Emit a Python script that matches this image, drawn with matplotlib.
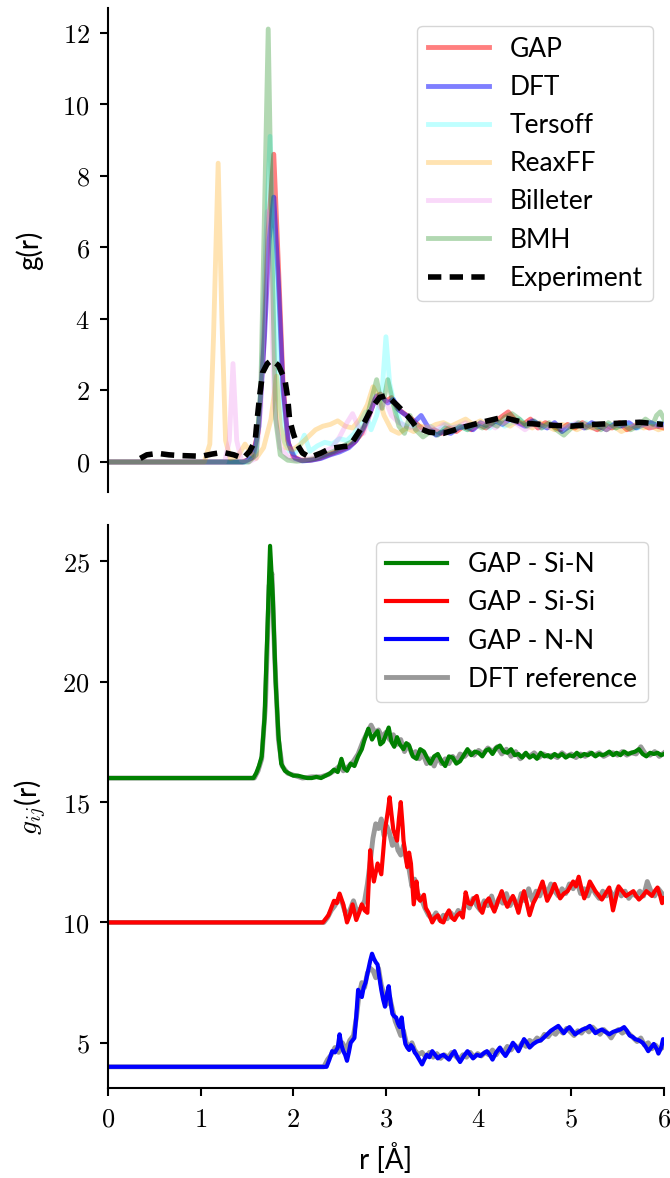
import matplotlib.pyplot as plt
from matplotlib.ticker import FuncFormatter

# ---- top panel: total g(r), (r, g) pairs ----
gap = [(0, 0), (1.45, 0), (1.55, 0.1), (1.62, 0.8), (1.68, 3.2), (1.73, 6.5), (1.79, 8.6), (1.84, 5.5),
       (1.89, 2.2), (1.94, 0.6), (2.0, 0.15), (2.08, 0.05), (2.18, 0.05), (2.28, 0.1), (2.38, 0.2),
       (2.48, 0.3), (2.58, 0.4), (2.66, 0.55), (2.74, 0.8), (2.82, 1.3), (2.88, 1.75), (2.94, 1.9),
       (3.0, 1.7), (3.06, 1.8), (3.12, 1.5), (3.2, 1.35), (3.28, 1.2), (3.36, 1.0), (3.44, 0.85),
       (3.52, 0.9), (3.6, 0.8), (3.68, 0.95), (3.76, 0.85), (3.84, 1.0), (3.92, 0.9), (4.0, 1.05),
       (4.08, 0.95), (4.16, 1.1), (4.24, 1.25), (4.32, 1.4), (4.4, 1.15), (4.48, 1.05), (4.56, 1.2),
       (4.64, 0.95), (4.72, 1.1), (4.8, 1.0), (4.88, 0.9), (4.96, 1.05), (5.04, 0.95), (5.12, 1.1),
       (5.2, 1.0), (5.28, 0.9), (5.36, 1.05), (5.44, 0.95), (5.52, 1.1), (5.6, 0.9), (5.68, 1.0),
       (5.76, 1.05), (5.84, 0.95), (5.92, 1.0), (6.0, 0.95)]
dft = [(0, 0), (1.47, 0), (1.57, 0.15), (1.63, 1.0), (1.69, 3.5), (1.74, 6.2), (1.79, 7.4), (1.84, 5.0),
       (1.89, 2.0), (1.95, 0.5), (2.02, 0.1), (2.1, 0.03), (2.2, 0.05), (2.3, 0.1), (2.4, 0.2), (2.5, 0.28),
       (2.6, 0.4), (2.68, 0.6), (2.76, 0.95), (2.84, 1.45), (2.9, 1.85), (2.96, 1.8), (3.02, 1.65),
       (3.08, 1.75), (3.14, 1.45), (3.22, 1.3), (3.3, 1.1), (3.38, 1.3), (3.46, 0.95), (3.54, 0.75),
       (3.62, 0.85), (3.7, 0.8), (3.78, 0.95), (3.86, 1.0), (3.94, 0.9), (4.02, 1.1), (4.1, 1.0),
       (4.18, 1.15), (4.26, 1.05), (4.34, 1.2), (4.42, 1.1), (4.5, 1.0), (4.58, 1.15), (4.66, 1.05),
       (4.74, 0.95), (4.82, 1.1), (4.9, 0.85), (4.98, 1.0), (5.06, 1.05), (5.14, 0.95), (5.22, 1.1),
       (5.3, 1.0), (5.38, 0.9), (5.46, 1.05), (5.54, 1.0), (5.62, 1.1), (5.7, 0.95), (5.78, 1.05),
       (5.86, 1.1), (5.94, 1.0), (6.0, 1.05)]
tersoff = [(0, 0), (1.5, 0), (1.6, 0.3), (1.66, 2.5), (1.71, 6.5), (1.75, 9.1), (1.8, 5.0), (1.85, 1.8),
           (1.9, 0.6), (1.96, 0.3), (2.02, 0.25), (2.08, 0.5), (2.12, 0.75), (2.18, 0.3), (2.26, 0.45),
           (2.34, 0.55), (2.42, 0.5), (2.5, 0.65), (2.58, 0.6), (2.66, 0.8), (2.72, 1.1), (2.78, 1.4),
           (2.84, 0.9), (2.9, 1.3), (2.96, 2.0), (3.0, 3.5), (3.04, 2.2), (3.1, 1.5), (3.16, 1.1),
           (3.24, 0.95), (3.32, 1.05), (3.4, 0.9), (3.48, 1.0), (3.56, 0.85), (3.64, 1.05), (3.72, 0.95),
           (3.8, 1.0), (3.88, 0.9), (3.96, 1.05), (4.04, 1.0), (4.12, 0.95), (4.2, 1.15), (4.28, 1.0),
           (4.36, 1.1), (4.44, 1.2), (4.52, 1.0), (4.6, 1.1), (4.68, 0.95), (4.76, 1.05), (4.84, 1.0),
           (4.92, 0.95), (5.0, 1.05), (5.08, 1.0), (5.16, 1.1), (5.24, 0.95), (5.32, 1.0), (5.4, 1.05),
           (5.48, 0.95), (5.56, 1.1), (5.64, 1.0), (5.72, 0.95), (5.8, 1.05), (5.88, 1.0), (5.96, 1.1),
           (6.0, 1.0)]
reaxff = [(0, 0), (1.04, 0), (1.1, 0.5), (1.14, 3.5), (1.19, 8.35), (1.23, 4.0), (1.27, 0.6), (1.32, 0.1),
          (1.4, 0.15), (1.48, 0.5), (1.53, 0.3), (1.6, 0.1), (1.68, 0.4), (1.76, 1.2), (1.82, 2.4),
          (1.86, 1.0), (1.92, 0.4), (2.0, 0.35), (2.08, 0.5), (2.16, 0.7), (2.24, 0.9), (2.32, 1.0),
          (2.4, 1.05), (2.48, 1.15), (2.56, 1.0), (2.64, 0.95), (2.72, 1.2), (2.8, 1.6), (2.86, 2.1),
          (2.92, 1.8), (2.98, 1.3), (3.06, 0.9), (3.14, 0.8), (3.22, 0.95), (3.3, 0.85), (3.38, 1.0),
          (3.46, 0.95), (3.54, 1.05), (3.62, 1.1), (3.7, 1.0), (3.78, 1.1), (3.86, 1.2), (3.94, 1.05),
          (4.02, 1.15), (4.1, 1.0), (4.18, 1.2), (4.26, 1.1), (4.34, 1.0), (4.42, 1.15), (4.5, 1.05),
          (4.58, 0.95), (4.66, 1.1), (4.74, 1.0), (4.82, 0.9), (4.9, 1.05), (4.98, 1.0), (5.06, 0.9),
          (5.14, 1.0), (5.22, 0.95), (5.3, 1.05), (5.38, 0.9), (5.46, 1.0), (5.54, 0.85), (5.62, 0.95),
          (5.7, 1.05), (5.78, 0.95), (5.86, 1.0), (5.94, 0.9), (6.0, 0.95)]
billeter = [(0, 0), (1.26, 0), (1.31, 0.6), (1.35, 2.75), (1.39, 0.6), (1.44, 0.05), (1.52, 0), (1.6, 0.1),
            (1.65, 1.5), (1.69, 5.0), (1.72, 7.0), (1.76, 4.5), (1.8, 1.5), (1.86, 0.4), (1.94, 0.15),
            (2.02, 0.05), (2.1, 0.05), (2.18, 0.1), (2.26, 0.15), (2.34, 0.3), (2.42, 0.4), (2.5, 0.7),
            (2.58, 1.1), (2.64, 1.35), (2.7, 1.0), (2.76, 0.8), (2.82, 1.3), (2.88, 1.8), (2.94, 1.5),
            (3.0, 1.7), (3.06, 1.3), (3.14, 1.1), (3.22, 1.0), (3.3, 0.95), (3.38, 0.9), (3.46, 1.0),
            (3.54, 0.9), (3.62, 1.05), (3.7, 0.95), (3.78, 1.0), (3.86, 1.1), (3.94, 0.95), (4.02, 1.05),
            (4.1, 1.1), (4.18, 0.95), (4.26, 1.1), (4.34, 1.2), (4.42, 1.05), (4.5, 0.9), (4.58, 1.05),
            (4.66, 0.95), (4.74, 1.0), (4.82, 1.05), (4.9, 0.95), (4.98, 1.0), (5.06, 1.1), (5.14, 0.95),
            (5.22, 1.0), (5.3, 1.05), (5.38, 0.95), (5.46, 1.0), (5.54, 1.05), (5.62, 0.95), (5.7, 1.0),
            (5.78, 1.05), (5.86, 0.95), (5.94, 1.05), (6.0, 1.0)]
bmh = [(0, 0), (1.52, 0), (1.6, 0.2), (1.65, 2.0), (1.69, 7.0), (1.73, 12.1), (1.77, 6.0), (1.81, 1.2),
       (1.86, 0.2), (1.94, 0.05), (2.04, 0.02), (2.14, 0.05), (2.24, 0.1), (2.34, 0.2), (2.44, 0.3),
       (2.54, 0.45), (2.62, 0.55), (2.7, 0.7), (2.78, 1.1), (2.84, 1.7), (2.9, 2.3), (2.96, 1.5),
       (3.02, 2.3), (3.08, 1.6), (3.14, 1.0), (3.2, 0.8), (3.26, 1.3), (3.32, 0.9), (3.4, 0.7),
       (3.48, 0.85), (3.56, 0.75), (3.64, 0.95), (3.72, 0.85), (3.8, 1.0), (3.88, 0.9), (3.96, 1.05),
       (4.04, 0.95), (4.12, 1.1), (4.2, 1.0), (4.28, 1.25), (4.36, 1.35), (4.44, 1.2), (4.52, 1.0),
       (4.6, 1.15), (4.68, 0.95), (4.76, 1.1), (4.84, 0.9), (4.92, 0.75), (5.0, 0.95), (5.08, 1.1),
       (5.16, 0.95), (5.24, 1.05), (5.32, 0.9), (5.4, 1.1), (5.48, 0.95), (5.56, 1.05), (5.64, 0.9),
       (5.72, 1.0), (5.8, 1.2), (5.88, 1.05), (5.92, 1.3), (5.96, 1.4), (6.0, 1.2)]
experiment = [(0.35, 0.1), (0.42, 0.2), (0.54, 0.24), (0.66, 0.2), (0.78, 0.18), (0.9, 0.17), (1.01, 0.16),
              (1.12, 0.22), (1.24, 0.27), (1.36, 0.2), (1.46, 0.1), (1.53, 0.3), (1.59, 0.6), (1.61, 1.17),
              (1.64, 1.9), (1.67, 2.5), (1.72, 2.75), (1.77, 2.85), (1.84, 2.7), (1.91, 2.3), (1.94, 1.8),
              (1.96, 1.2), (2.0, 0.8), (2.04, 0.5), (2.1, 0.25), (2.18, 0.13), (2.3, 0.25), (2.4, 0.38),
              (2.51, 0.42), (2.61, 0.45), (2.74, 0.97), (2.85, 1.52), (2.93, 1.8), (3.01, 1.86), (3.12, 1.59),
              (3.23, 1.3), (3.33, 0.97), (3.47, 0.83), (3.62, 0.8), (3.83, 0.97), (4.05, 1.12), (4.26, 1.25),
              (4.52, 1.08), (4.77, 1.03), (4.99, 1.0), (5.24, 1.05), (5.49, 1.08), (5.74, 1.11), (5.99, 1.05)]

# ---- bottom panel: partial g_ij(r), already offset (Si-N +16, Si-Si +10, N-N +4) ----
gap_sin = [(0, 16), (1.57, 16), (1.6, 16.2), (1.63, 16.5), (1.66, 16.9), (1.69, 18.5), (1.72, 22.0), (1.75, 25.65),
           (1.78, 23.5), (1.81, 20.0), (1.84, 17.8), (1.87, 16.6), (1.91, 16.3), (1.95, 16.2), (2.0, 16.1),
           (2.05, 16.1), (2.1, 16.05), (2.15, 16.0), (2.2, 16.0), (2.25, 16.05), (2.3, 16.0), (2.35, 16.1),
           (2.4, 16.2), (2.44, 16.35), (2.48, 16.25), (2.52, 16.8), (2.55, 16.4), (2.58, 16.3), (2.62, 16.6),
           (2.66, 16.5), (2.7, 16.9), (2.74, 17.2), (2.77, 17.6), (2.81, 18.05), (2.85, 17.6), (2.88, 17.8),
           (2.91, 17.95), (2.94, 17.4), (2.97, 17.5), (3.0, 17.8), (3.03, 18.1), (3.06, 17.5), (3.09, 17.3),
           (3.12, 17.7), (3.15, 17.4), (3.19, 17.2), (3.22, 17.45), (3.25, 17.35), (3.29, 16.9), (3.33, 16.8),
           (3.37, 17.2), (3.41, 17.1), (3.45, 16.8), (3.48, 16.6), (3.52, 16.9), (3.56, 17.0), (3.6, 16.7),
           (3.64, 16.5), (3.68, 16.9), (3.72, 16.85), (3.76, 16.6), (3.8, 16.7), (3.84, 16.95), (3.88, 17.2),
           (3.92, 16.95), (3.96, 17.1), (4.0, 17.05), (4.04, 16.9), (4.08, 17.15), (4.11, 17.2), (4.15, 17.0),
           (4.19, 17.25), (4.23, 17.35), (4.27, 17.1), (4.31, 17.05), (4.35, 17.2), (4.39, 16.95), (4.43, 17.0),
           (4.47, 16.85), (4.51, 17.05), (4.55, 16.85), (4.59, 16.95), (4.63, 16.8), (4.67, 17.05), (4.71, 16.9),
           (4.75, 16.95), (4.78, 16.85), (4.82, 17.0), (4.86, 16.9), (4.9, 17.0), (4.94, 16.85), (4.98, 16.95),
           (5.02, 16.9), (5.06, 17.05), (5.1, 16.9), (5.14, 17.0), (5.18, 16.95), (5.22, 17.05), (5.26, 16.9),
           (5.3, 17.0), (5.34, 16.95), (5.37, 17.0), (5.41, 17.1), (5.45, 16.95), (5.49, 17.05), (5.53, 16.95),
           (5.57, 17.1), (5.61, 17.0), (5.65, 17.05), (5.69, 17.1), (5.73, 17.2), (5.77, 17.0), (5.81, 16.9),
           (5.85, 17.05), (5.89, 17.0), (5.93, 17.05), (5.97, 16.95), (6.0, 17.0)]
dft_sin = [(0, 16), (1.58, 16), (1.62, 16.3), (1.66, 16.8), (1.7, 19.0), (1.74, 24.0), (1.77, 24.5), (1.8, 21.0),
           (1.84, 17.6), (1.88, 16.5), (1.94, 16.2), (2.02, 16.1), (2.1, 16.0), (2.2, 16.05), (2.3, 16.05),
           (2.38, 16.15), (2.44, 16.3), (2.5, 16.5), (2.54, 16.3), (2.6, 16.5), (2.65, 16.7), (2.7, 17.0),
           (2.75, 17.5), (2.8, 17.9), (2.84, 18.2), (2.88, 17.9), (2.92, 18.0), (2.96, 17.7), (3.0, 17.9),
           (3.04, 17.6), (3.08, 17.8), (3.12, 17.4), (3.16, 17.6), (3.2, 17.1), (3.24, 17.4), (3.28, 17.0),
           (3.32, 17.1), (3.36, 16.8), (3.4, 17.0), (3.44, 16.6), (3.48, 16.8), (3.52, 16.5), (3.56, 16.9),
           (3.6, 16.6), (3.64, 16.8), (3.68, 16.6), (3.72, 16.9), (3.76, 16.7), (3.8, 17.0), (3.85, 16.9),
           (3.9, 17.1), (3.95, 16.95), (4.0, 17.15), (4.05, 17.0), (4.1, 17.25), (4.15, 17.1), (4.2, 17.3),
           (4.25, 17.0), (4.3, 17.2), (4.35, 16.9), (4.4, 17.1), (4.45, 16.8), (4.5, 17.0), (4.55, 16.9),
           (4.6, 17.05), (4.65, 16.85), (4.7, 17.0), (4.75, 16.9), (4.8, 16.95), (4.85, 16.85), (4.9, 17.05),
           (4.95, 16.9), (5.0, 17.0), (5.05, 16.85), (5.1, 17.0), (5.15, 16.9), (5.2, 17.05), (5.25, 16.95),
           (5.3, 17.05), (5.35, 16.9), (5.4, 17.0), (5.45, 17.05), (5.5, 16.95), (5.55, 17.1), (5.6, 16.95),
           (5.65, 17.05), (5.7, 17.0), (5.75, 17.3), (5.8, 17.0), (5.85, 16.95), (5.9, 17.1), (5.95, 16.9),
           (6.0, 17.05)]
gap_sisi = [(0, 10), (2.32, 10), (2.35, 10.15), (2.38, 10.3), (2.41, 10.6), (2.44, 10.9), (2.47, 10.8), (2.5, 11.2),
            (2.54, 10.75), (2.58, 10.0), (2.61, 10.3), (2.64, 10.75), (2.68, 10.1), (2.71, 10.4), (2.74, 10.75),
            (2.77, 10.5), (2.8, 10.4), (2.83, 13.0), (2.85, 12.2), (2.87, 11.7), (2.91, 12.45), (2.95, 12.0),
            (2.97, 12.9), (2.99, 13.85), (3.02, 14.6), (3.04, 15.2), (3.06, 14.5), (3.08, 13.85), (3.12, 13.4),
            (3.14, 14.3), (3.16, 15.0), (3.18, 14.0), (3.19, 13.4), (3.23, 12.3), (3.25, 12.9), (3.27, 12.45),
            (3.3, 10.75), (3.33, 11.7), (3.35, 11.0), (3.37, 10.9), (3.41, 11.15), (3.43, 10.6), (3.46, 10.4),
            (3.5, 10.0), (3.53, 10.2), (3.56, 10.3), (3.59, 10.05), (3.62, 10.0), (3.65, 10.3), (3.68, 10.5),
            (3.71, 10.2), (3.74, 10.1), (3.77, 10.3), (3.8, 10.4), (3.83, 10.2), (3.86, 11.25), (3.89, 10.8),
            (3.92, 10.75), (3.95, 11.0), (3.98, 11.1), (4.01, 10.6), (4.04, 10.4), (4.07, 10.8), (4.11, 11.0),
            (4.14, 10.7), (4.17, 10.45), (4.21, 10.9), (4.25, 11.3), (4.28, 10.9), (4.31, 10.65), (4.34, 10.9),
            (4.37, 11.1), (4.4, 10.8), (4.43, 10.4), (4.46, 10.9), (4.49, 11.3), (4.52, 10.8), (4.55, 10.3),
            (4.59, 10.8), (4.63, 11.1), (4.66, 11.4), (4.69, 11.7), (4.72, 11.2), (4.74, 10.9), (4.78, 11.2),
            (4.82, 11.6), (4.85, 11.3), (4.88, 11.0), (4.92, 11.2), (4.96, 11.3), (4.99, 11.5), (5.02, 11.7),
            (5.05, 11.5), (5.08, 11.9), (5.11, 11.4), (5.14, 11.0), (5.17, 11.3), (5.2, 11.7), (5.23, 11.5),
            (5.26, 11.3), (5.3, 11.1), (5.33, 10.95), (5.37, 11.2), (5.41, 11.45), (5.45, 10.5), (5.48, 11.0),
            (5.51, 11.5), (5.55, 11.3), (5.59, 11.1), (5.63, 11.2), (5.67, 11.3), (5.7, 11.1), (5.73, 10.95),
            (5.77, 11.1), (5.81, 11.3), (5.84, 11.2), (5.87, 11.1), (5.9, 11.3), (5.93, 11.45), (5.96, 11.1),
            (5.98, 10.8), (6.0, 11.0)]
dft_sisi = [(0, 10), (2.33, 10), (2.37, 10.2), (2.41, 10.5), (2.45, 10.7), (2.49, 11.0), (2.53, 10.8), (2.57, 10.3),
            (2.61, 10.5), (2.65, 10.9), (2.69, 10.4), (2.73, 10.6), (2.77, 10.9), (2.8, 11.6), (2.83, 12.5),
            (2.86, 13.5), (2.89, 14.1), (2.92, 13.9), (2.95, 14.3), (2.98, 13.6), (3.01, 14.0), (3.04, 13.7),
            (3.07, 13.2), (3.1, 13.5), (3.13, 13.0), (3.16, 12.8), (3.19, 13.2), (3.22, 12.6), (3.25, 12.2),
            (3.28, 11.5), (3.31, 11.8), (3.34, 11.2), (3.38, 11.0), (3.42, 10.6), (3.46, 10.3), (3.5, 10.15),
            (3.54, 10.4), (3.58, 10.1), (3.62, 10.3), (3.66, 10.15), (3.7, 10.4), (3.74, 10.2), (3.78, 10.5),
            (3.82, 10.3), (3.86, 10.9), (3.9, 10.6), (3.94, 11.0), (3.98, 10.7), (4.02, 10.5), (4.06, 10.9),
            (4.1, 10.7), (4.14, 11.1), (4.18, 10.6), (4.22, 11.0), (4.26, 10.8), (4.3, 11.2), (4.34, 10.7),
            (4.38, 11.0), (4.42, 10.6), (4.46, 11.2), (4.5, 10.9), (4.54, 11.4), (4.58, 10.9), (4.62, 11.3),
            (4.66, 11.1), (4.7, 11.5), (4.74, 11.2), (4.78, 11.6), (4.82, 11.3), (4.86, 11.1), (4.9, 11.4),
            (4.94, 11.2), (4.98, 11.6), (5.02, 11.4), (5.06, 11.7), (5.1, 11.2), (5.14, 11.4), (5.18, 11.1),
            (5.22, 11.5), (5.26, 11.2), (5.3, 11.0), (5.34, 11.3), (5.38, 11.1), (5.42, 11.3), (5.46, 11.0),
            (5.5, 11.4), (5.54, 11.1), (5.58, 11.3), (5.62, 11.0), (5.66, 11.2), (5.7, 11.1), (5.74, 11.3),
            (5.78, 11.1), (5.82, 11.7), (5.86, 11.3), (5.9, 11.1), (5.94, 11.4), (5.98, 11.2), (6.0, 11.1)]
gap_nn = [(0, 4), (2.36, 4), (2.39, 4.3), (2.42, 4.65), (2.45, 4.6), (2.48, 4.8), (2.5, 5.35), (2.52, 4.9),
          (2.54, 4.65), (2.56, 4.5), (2.58, 4.25), (2.6, 4.6), (2.62, 5.0), (2.64, 5.1), (2.66, 5.2), (2.68, 6.1),
          (2.7, 7.2), (2.72, 7.0), (2.74, 6.9), (2.76, 7.3), (2.78, 7.5), (2.81, 8.05), (2.83, 8.4), (2.85, 8.7),
          (2.87, 8.5), (2.89, 8.35), (2.91, 8.25), (2.93, 7.7), (2.95, 7.2), (2.97, 6.8), (2.99, 6.5), (3.01, 7.0),
          (3.03, 7.35), (3.05, 6.7), (3.07, 6.2), (3.09, 6.1), (3.11, 6.05), (3.13, 5.8), (3.15, 5.65),
          (3.17, 6.05), (3.19, 5.4), (3.21, 4.95), (3.23, 4.8), (3.25, 4.7), (3.27, 4.9), (3.29, 4.8), (3.31, 4.6),
          (3.33, 4.5), (3.36, 4.3), (3.39, 4.1), (3.42, 4.35), (3.44, 4.5), (3.47, 4.4), (3.5, 4.65), (3.53, 4.5),
          (3.56, 4.35), (3.59, 4.45), (3.62, 4.5), (3.65, 4.4), (3.68, 4.3), (3.71, 4.5), (3.74, 4.65),
          (3.77, 4.4), (3.8, 4.2), (3.84, 4.45), (3.88, 4.65), (3.91, 4.5), (3.94, 4.35), (3.98, 4.5),
          (4.02, 4.45), (4.05, 4.55), (4.09, 4.65), (4.12, 4.5), (4.15, 4.3), (4.19, 4.6), (4.23, 4.8),
          (4.26, 4.6), (4.29, 4.45), (4.33, 4.7), (4.37, 5.0), (4.4, 4.85), (4.43, 4.65), (4.46, 4.9),
          (4.49, 5.15), (4.52, 5.0), (4.55, 4.8), (4.59, 4.95), (4.63, 5.05), (4.67, 5.1), (4.7, 5.2),
          (4.74, 5.35), (4.78, 5.5), (4.82, 5.6), (4.86, 5.7), (4.89, 5.55), (4.92, 5.4), (4.95, 5.55),
          (4.98, 5.65), (5.01, 5.5), (5.04, 5.35), (5.08, 5.45), (5.12, 5.55), (5.16, 5.6), (5.2, 5.7),
          (5.23, 5.55), (5.26, 5.4), (5.3, 5.5), (5.33, 5.55), (5.37, 5.45), (5.41, 5.35), (5.45, 5.45),
          (5.49, 5.5), (5.53, 5.55), (5.57, 5.65), (5.6, 5.5), (5.63, 5.3), (5.66, 5.25), (5.69, 5.15),
          (5.73, 5.1), (5.77, 5.0), (5.8, 4.85), (5.83, 4.65), (5.86, 4.8), (5.89, 4.95), (5.92, 4.75),
          (5.94, 4.55), (5.97, 4.8), (5.99, 5.15), (6.0, 5.0)]
dft_nn = [(0, 4), (2.33, 4), (2.37, 4.3), (2.41, 4.5), (2.45, 4.8), (2.49, 4.6), (2.53, 5.0), (2.57, 4.7),
          (2.61, 5.1), (2.65, 5.3), (2.68, 6.0), (2.71, 7.0), (2.74, 7.5), (2.77, 7.3), (2.8, 7.9), (2.83, 8.1),
          (2.86, 8.0), (2.89, 7.7), (2.92, 8.1), (2.95, 7.4), (2.98, 7.0), (3.01, 6.6), (3.04, 6.9), (3.07, 6.4),
          (3.1, 5.9), (3.13, 5.6), (3.16, 5.3), (3.19, 5.5), (3.22, 5.0), (3.25, 4.8), (3.28, 5.0), (3.31, 4.7),
          (3.35, 4.5), (3.39, 4.6), (3.43, 4.4), (3.47, 4.6), (3.51, 4.4), (3.55, 4.55), (3.59, 4.35),
          (3.63, 4.5), (3.67, 4.4), (3.71, 4.6), (3.75, 4.45), (3.79, 4.3), (3.83, 4.5), (3.87, 4.4),
          (3.91, 4.6), (3.95, 4.4), (3.99, 4.55), (4.03, 4.45), (4.07, 4.6), (4.11, 4.5), (4.15, 4.7),
          (4.19, 4.5), (4.23, 4.75), (4.27, 4.6), (4.31, 4.85), (4.35, 4.7), (4.39, 4.9), (4.43, 4.75),
          (4.47, 5.0), (4.51, 4.85), (4.55, 5.1), (4.59, 5.0), (4.63, 5.2), (4.67, 5.1), (4.71, 5.35),
          (4.75, 5.25), (4.79, 5.45), (4.83, 5.35), (4.87, 5.55), (4.91, 5.4), (4.95, 5.6), (4.99, 5.45),
          (5.03, 5.3), (5.07, 5.5), (5.11, 5.4), (5.15, 5.6), (5.19, 5.45), (5.23, 5.65), (5.27, 5.5),
          (5.31, 5.35), (5.35, 5.55), (5.39, 5.4), (5.43, 5.2), (5.47, 5.45), (5.51, 5.55), (5.55, 5.4),
          (5.59, 5.5), (5.63, 5.35), (5.67, 5.2), (5.71, 5.05), (5.75, 5.2), (5.79, 4.9), (5.83, 5.0),
          (5.87, 4.75), (5.91, 4.9), (5.95, 4.7), (6.0, 4.85)]

plt.rcParams['font.family'] = ['Lato', 'DejaVu Sans']
plt.rcParams['mathtext.fontset'] = 'cm'

cm_ticks = FuncFormatter(lambda v, pos: '$%g$' % v)


def xy(pairs):
    r, g = zip(*pairs)
    return r, g


def style_axis(ax):
    ax.spines['top'].set_visible(False)
    ax.spines['right'].set_visible(False)
    for s in ax.spines.values():
        s.set_linewidth(1.5)
    ax.tick_params(width=1.5, length=6, pad=7, labelsize=19)
    ax.yaxis.set_major_formatter(cm_ticks)
    ax.xaxis.set_major_formatter(cm_ticks)


fig = plt.figure(figsize=(6.7, 11.78), dpi=100)
ax1 = fig.add_axes([0.161, 0.582, 0.830, 0.411])
ax2 = fig.add_axes([0.161, 0.076, 0.830, 0.478])

# top panel
top_series = [
    (gap, 'red', 0.5, 'GAP'),
    (dft, 'blue', 0.5, 'DFT'),
    (tersoff, 'cyan', 0.25, 'Tersoff'),
    (reaxff, 'orange', 0.3, 'ReaxFF'),
    (billeter, 'violet', 0.3, 'Billeter'),
    (bmh, 'green', 0.3, 'BMH'),
]
for pairs, c, a, lab in top_series:
    r, g = xy(pairs)
    ax1.plot(r, g, color=c, alpha=a, lw=3.5, label=lab)
r, g = xy(experiment)
ax1.plot(r, g, color='black', lw=4, dashes=(2.4, 1.5), label='Experiment')

style_axis(ax1)
ax1.spines['bottom'].set_visible(False)
ax1.tick_params(axis='x', bottom=False, labelbottom=False)
ax1.set_xlim(0, 6)
ax1.set_ylim(-0.85, 12.68)
ax1.set_yticks([0, 2, 4, 6, 8, 10, 12])
ax1.set_ylabel('g(r)', fontsize=20, labelpad=14)
ax1.legend(loc='upper right', fontsize=19, handlelength=2.3, handletextpad=0.8, labelspacing=0.5,
           borderaxespad=0.4, bbox_to_anchor=(1.0, 0.985))

# bottom panel
bottom_series = [
    (gap_sin, dft_sin, 'green', 'GAP - Si-N'),
    (gap_sisi, dft_sisi, 'red', 'GAP - Si-Si'),
    (gap_nn, dft_nn, 'blue', 'GAP - N-N'),
]
for gp, dp, c, lab in bottom_series:
    r, g = xy(dp)
    ax2.plot(r, g, color='gray', alpha=0.8, lw=3.5)
    r, g = xy(gp)
    ax2.plot(r, g, color=c, lw=3, label=lab)
ax2.plot([], [], color='gray', alpha=0.8, lw=3.5, label='DFT reference')

style_axis(ax2)
ax2.set_xlim(0, 6)
ax2.set_ylim(3.1, 26.5)
ax2.set_yticks([5, 10, 15, 20, 25])
ax2.set_xticks([0, 1, 2, 3, 4, 5, 6])
ax2.set_ylabel(r'$g_{ij}$(r)', fontsize=20, labelpad=10)
ax2.set_xlabel('r [Å]', fontsize=20, labelpad=8)
ax2.legend(loc='upper right', fontsize=19, handlelength=2.3, handletextpad=0.8, labelspacing=0.5,
           borderaxespad=0.4, bbox_to_anchor=(0.99, 0.99))

fig.savefig('out.png', dpi=100)
